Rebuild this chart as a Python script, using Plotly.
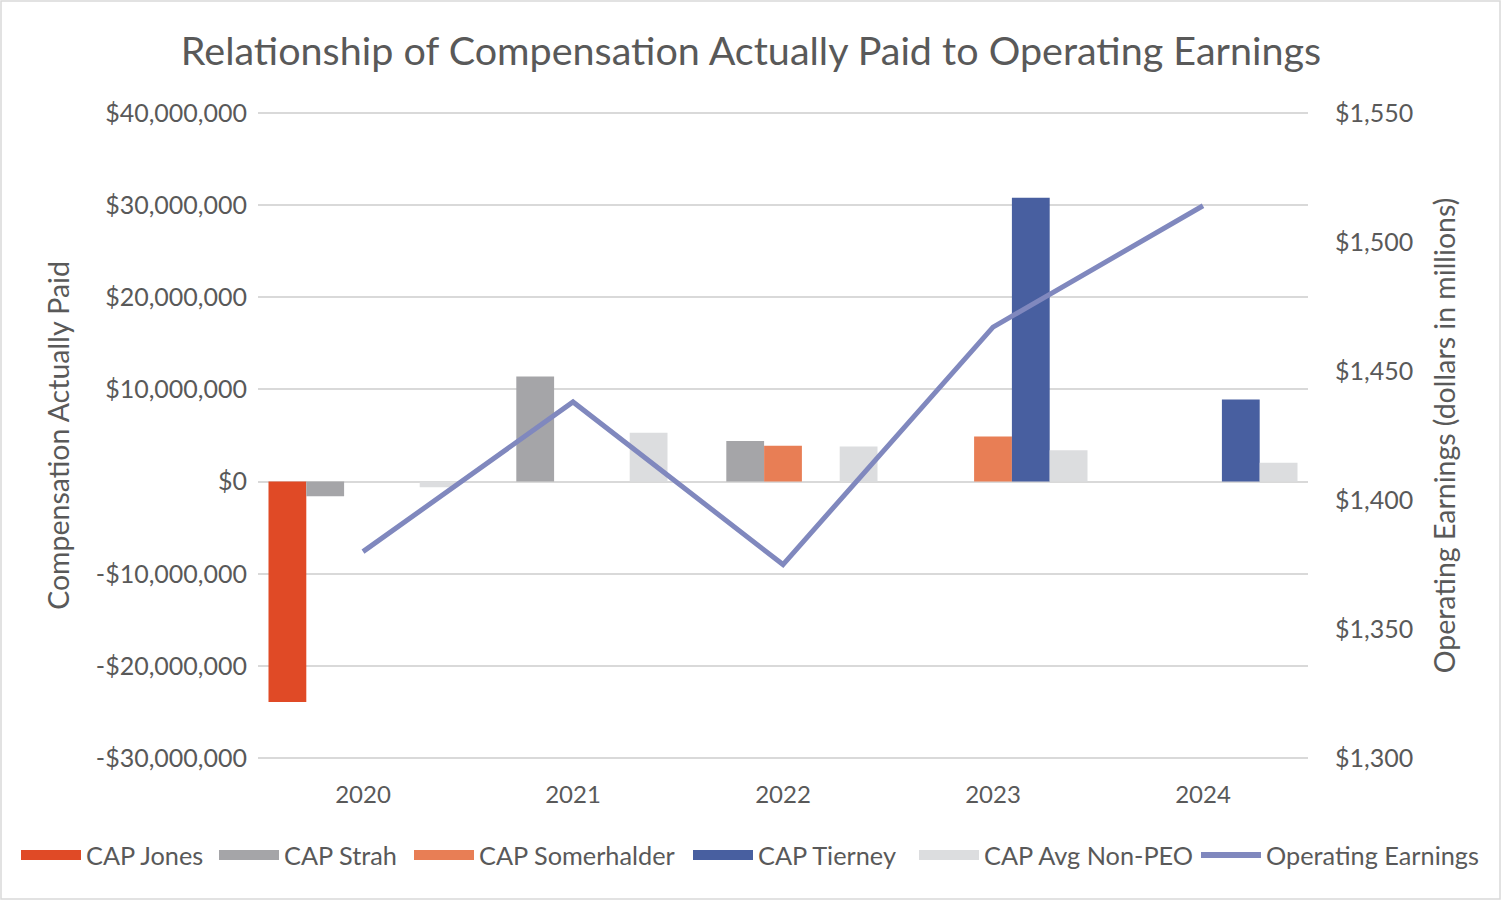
import plotly.graph_objects as go

years = ["2020", "2021", "2022", "2023", "2024"]
cap_jones = [-23.9e6, None, None, None, None]
cap_strah = [-1.6e6, 11.4e6, 4.4e6, None, None]
cap_somerhalder = [None, None, 3.9e6, 4.9e6, None]
cap_tierney = [None, None, None, 30.8e6, 8.9e6]
cap_avg_non_peo = [-0.6e6, 5.3e6, 3.8e6, 3.4e6, 2.05e6]
operating_earnings = [1380, 1438, 1375, 1467, 1514]

left_tickvals = [-30e6, -20e6, -10e6, 0, 10e6, 20e6, 30e6, 40e6]
left_ticktext = ["-$30,000,000", "-$20,000,000", "-$10,000,000", "$0",
                 "$10,000,000", "$20,000,000", "$30,000,000", "$40,000,000"]
right_tickvals = [1300, 1350, 1400, 1450, 1500, 1550]
right_ticktext = ["$1,300", "$1,350", "$1,400", "$1,450", "$1,500", "$1,550"]

FONT = "Lato"
TXT = "#595959"

L, R, T, B = 258, 194, 111, 140
W, H = 1502, 900
pw, ph = W - L - R, H - T - B
plot_bottom = H - B

fig = go.Figure()
bar_series = [
    ("CAP Jones", cap_jones, "#E04A26"),
    ("CAP Strah", cap_strah, "#A5A5A8"),
    ("CAP Somerhalder", cap_somerhalder, "#E87E55"),
    ("CAP Tierney", cap_tierney, "#485FA0"),
    ("CAP Avg Non-PEO", cap_avg_non_peo, "#DCDDDF"),
]
for name, vals, col in bar_series:
    fig.add_trace(go.Bar(x=years, y=vals, name=name, showlegend=False,
                         marker=dict(color=col, line=dict(width=0))))

fig.add_trace(go.Scatter(x=years, y=operating_earnings, name="Operating Earnings", yaxis="y2",
                         mode="lines", line=dict(color="#8088BE", width=5), showlegend=False))

# legend entries: one legend per entry so that each sits where the reference puts it
legend_swatch_px = [21, 219, 414, 693, 919, 1201]
legend_entries = [(n, c, 14) for n, _, c in bar_series] + [("Operating Earnings", "#8088BE", 6)]
legend_layout = {}
for i, ((name, col, lw), px) in enumerate(zip(legend_entries, legend_swatch_px)):
    key = "legend" if i == 0 else f"legend{i + 1}"
    fig.add_trace(go.Scatter(x=[None], y=[None], name=name, mode="lines", legend=key,
                             line=dict(color=col, width=lw)))
    legend_layout[key] = dict(orientation="h", x=(px - 5 - L) / pw, xanchor="left",
                              y=-(855 - plot_bottom) / ph, yanchor="middle", borderwidth=0,
                              bgcolor="rgba(0,0,0,0)",
                              font=dict(size=25.3, color=TXT, family=FONT), itemwidth=60)

# small padding so the outer gridlines ($40M / -$30M) are drawn
pad_l = 0.2e6
pad_r = 250 * pad_l / 70e6

fig.update_layout(
    width=W, height=H,
    margin=dict(l=L, r=R, t=T, b=B, autoexpand=False),
    paper_bgcolor="white", plot_bgcolor="white",
    font=dict(family=FONT, color=TXT, size=24),
    title=dict(text="Relationship of Compensation Actually Paid to Operating Earnings",
               x=0.5, xanchor="center", y=1 - 51 / H, yanchor="middle",
               font=dict(size=39.5, color=TXT, family=FONT)),
    barmode="group", bargap=0.1, bargroupgap=0,
    xaxis=dict(type="category", range=[-0.5, 4.5], showgrid=False, showline=False,
               ticks="", tickfont=dict(size=24, color=TXT), ticklabelstandoff=18),
    yaxis=dict(range=[-30e6 - pad_l, 40e6 + pad_l], tickmode="array", tickvals=left_tickvals,
               ticktext=left_ticktext,
               showgrid=True, gridcolor="#D9D9D9", gridwidth=1.5, zeroline=False, showline=False,
               tickfont=dict(size=25, color=TXT), ticklabelstandoff=10,
               title=dict(text="Compensation Actually Paid", font=dict(size=28.5, color=TXT), standoff=17)),
    yaxis2=dict(range=[1300 - pad_r, 1550 + pad_r], tickmode="array", tickvals=right_tickvals,
                ticktext=right_ticktext,
                overlaying="y", side="right", showgrid=False, zeroline=False, showline=False,
                tickfont=dict(size=25, color=TXT), ticklabelstandoff=26,
                title=dict(text="Operating Earnings (dollars in millions)", font=dict(size=28.5, color=TXT), standoff=22)),
    showlegend=True,
    **legend_layout,
)

fig.add_shape(type="rect", xref="paper", yref="paper",
              x0=-(L - 1) / pw, x1=1 + (R - 2) / pw, y0=-(B - 1) / ph, y1=1 + (T - 1) / ph,
              line=dict(color="#D9D9D9", width=1.5), fillcolor="rgba(0,0,0,0)", layer="below")

fig.write_html("out.html", config={"displayModeBar": False},
               post_script="document.body.style.margin='0px';")
